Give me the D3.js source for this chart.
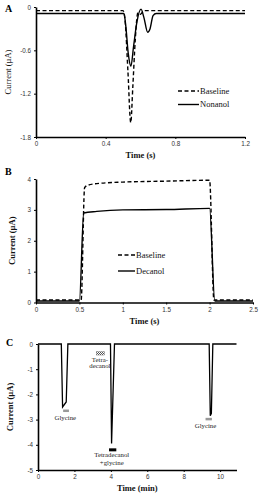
<!DOCTYPE html>
<html>
<head>
<meta charset="utf-8">
<script src="https://d3js.org/d3.v7.min.js"></script>
<style>
  body { margin: 0; background: #fff; }
  svg { font-family: "Liberation Serif", "DejaVu Serif", serif; }
  .tick text { font-size: 6.3px; fill: #333; }
  .axis path, .axis line { stroke: #000; }
  .lbl { font-size: 8.5px; fill: #111; }
</style>
</head>
<body>
<svg id="chart" width="260" height="500"></svg>
<script>
// ---- panel A: time (s) vs current (uA)
var aBaseT = [0, 0.5, 0.512, 0.528, 0.544, 0.556, 0.57, 0.585, 0.6, 0.62, 1.2];
var aBaseV = [-0.05, -0.05, -0.2, -0.9, -1.6, -1.1, -0.45, -0.08, -0.1, -0.05, -0.05];
var aNonT = [0, 0.505, 0.515, 0.53, 0.545, 0.56, 0.58, 0.603, 0.62, 0.641, 0.655, 0.672, 0.69, 1.2];
var aNonV = [-0.09, -0.09, -0.25, -0.65, -0.82, -0.55, -0.2, -0.03, -0.15, -0.35, -0.3, -0.12, -0.09, -0.09];
var aXTicks = [0, 0.4, 0.8, 1.2];
var aYTicks = [0, -0.6, -1.2, -1.8];

// ---- panel B
var bBaseT = [0, 0.52, 0.56, 0.6, 0.7, 1.0, 1.5, 2.0, 2.05, 2.1, 2.5];
var bBaseV = [0.08, 0.08, 3.72, 3.8, 3.85, 3.9, 3.93, 3.96, 0.08, 0.08, 0.08];
var bDecT = [0, 0.5, 0.55, 0.7, 1.0, 1.5, 2.0, 2.06, 2.1, 2.5];
var bDecV = [0.05, 0.05, 2.9, 2.95, 3.0, 3.01, 3.05, 0.05, 0.05, 0.05];
var bXTicks = [0, 0.5, 1, 1.5, 2, 2.5];
var bYTicks = [0, 1, 2, 3, 4];

// ---- panel C: time (min)
var cT = [0, 1.28, 1.35, 1.55, 1.64, 3.98, 4.04, 4.2, 9.4, 9.46, 9.52, 9.6, 10.9];
var cV = [0, 0, -2.5, -2.3, 0, 0, -3.95, 0, 0, -2.85, -2.75, 0, 0];
var cXTicks = [0, 2, 4, 6, 8, 10];
var cYTicks = [0, -1, -2, -3, -4, -5];

var svg = d3.select("#chart");

function pts(t, v) { return t.map(function(d, i) { return [d, v[i]]; }); }

function panel(o) {
  var x = d3.scaleLinear().domain(o.xd).range(o.xr);
  var y = d3.scaleLinear().domain(o.yd).range(o.yr);
  var g = svg.append("g");

  g.append("g").attr("class", "axis")
    .attr("transform", "translate(0," + o.yr[0] + ")")
    .call(d3.axisBottom(x).tickValues(o.xt).tickSize(2).tickSizeOuter(0).tickFormat(d3.format("")))
    .call(function(a) { a.select(".domain").attr("stroke-width", 1.6); });
  g.append("g").attr("class", "axis")
    .attr("transform", "translate(" + o.xr[0] + ",0)")
    .call(d3.axisLeft(y).tickValues(o.yt).tickSize(2).tickSizeOuter(0).tickFormat(function(d) { return String(d); }))
    .call(function(a) { a.select(".domain").attr("stroke-width", 1.6); });

  var line = d3.line().x(function(d) { return x(d[0]); }).y(function(d) { return y(d[1]); })
    .curve(o.curve || d3.curveMonotoneX);
  o.series.forEach(function(s) {
    g.append("path").datum(pts(s.t, s.v))
      .attr("fill", "none").attr("stroke", "#000")
      .attr("stroke-width", s.w || 1.4)
      .attr("stroke-dasharray", s.dash ? "4,2.5" : null)
      .attr("d", line);
  });

  g.append("text").attr("class", "lbl")
    .attr("x", (o.xr[0] + o.xr[1]) / 2).attr("y", o.yr[0] + 21)
    .attr("text-anchor", "middle").attr("font-weight", "bold").text(o.xl);
  g.append("text").attr("class", "lbl")
    .attr("transform", "translate(" + o.ylx + "," + (o.yr[0] + o.yr[1]) / 2 + ") rotate(-90)")
    .attr("text-anchor", "middle").attr("font-weight", o.ylb ? "bold" : "normal").text("Current (\u00b5A)");
  g.append("text").attr("x", o.letter[0]).attr("y", o.letter[1])
    .attr("font-size", 10).attr("font-weight", "bold").text(o.name);

  if (o.legend) {
    o.legend.forEach(function(l, i) {
      var ly = o.legPos[1] + i * o.legGap;
      g.append("line").attr("x1", o.legPos[0]).attr("x2", o.legPos[0] + o.legLen)
        .attr("y1", ly).attr("y2", ly).attr("stroke", "#000").attr("stroke-width", 1.4)
        .attr("stroke-dasharray", l.dash ? "4,2.5" : null);
      g.append("text").attr("class", "lbl").attr("x", o.legPos[0] + o.legLen + 1).attr("y", ly + 2.5)
        .text(l.name);
    });
  }
  return { x: x, y: y, g: g };
}

panel({
  name: "A", letter: [5, 12], xd: [0, 1.2], xr: [36, 245], yd: [-1.8, 0], yr: [137, 7],
  xt: aXTicks, yt: aYTicks, xl: "Time (s)", ylx: 11, ylb: false,
  series: [{ t: aBaseT, v: aBaseV, dash: true }, { t: aNonT, v: aNonV }],
  legend: [{ name: "Baseline", dash: true }, { name: "Nonanol" }],
  legPos: [178, 91], legGap: 13.5, legLen: 21
});

panel({
  name: "B", letter: [5, 175], xd: [0, 2.5], xr: [36, 253], yd: [0, 4], yr: [302.5, 179],
  xt: bXTicks, yt: bYTicks, xl: "Time (s)", ylx: 15, ylb: true,
  series: [{ t: bBaseT, v: bBaseV, dash: true }, { t: bDecT, v: bDecV }],
  legend: [{ name: "Baseline", dash: true }, { name: "Decanol" }],
  legPos: [118, 255], legGap: 16, legLen: 17
});

var pc = panel({
  name: "C", letter: [6, 346], xd: [0, 10.9], xr: [38, 236.5], yd: [-5, 0], yr: [470, 344],
  xt: cXTicks, yt: cYTicks, xl: "Time (min)", ylx: 13, ylb: true, curve: d3.curveLinear,
  series: [{ t: cT, v: cV, w: 1.3 }]
});

// panel C annotations
var marks = [
  { t0: 1.38, t1: 1.7, v: -2.65, fill: "#999", h: 2.5, text: ["Glycine"], tx: 1.5, tv: -3.0 },
  { t0: 3.9, t1: 4.3, v: -4.2, fill: "#000", h: 3, text: ["Tetradecanol", "+glycine"], tx: 4.05, tv: -4.5 },
  { t0: 9.2, t1: 9.55, v: -2.98, fill: "#999", h: 2.5, text: ["Glycine"], tx: 9.2, tv: -3.35 }
];
marks.forEach(function(m) {
  pc.g.append("rect").attr("x", pc.x(m.t0)).attr("width", pc.x(m.t1) - pc.x(m.t0))
    .attr("y", pc.y(m.v) - m.h / 2).attr("height", m.h).attr("fill", m.fill);
  m.text.forEach(function(s, i) {
    pc.g.append("text").attr("x", pc.x(m.tx)).attr("y", pc.y(m.tv) + i * 7.5)
      .attr("text-anchor", "middle").attr("font-size", 6.8).attr("fill", "#222").text(s);
  });
});
var defs = svg.append("defs");
var pat = defs.append("pattern").attr("id", "chk").attr("width", 2).attr("height", 2)
  .attr("patternUnits", "userSpaceOnUse");
pat.append("rect").attr("width", 2).attr("height", 2).attr("fill", "#fff");
pat.append("rect").attr("width", 1).attr("height", 1).attr("fill", "#555");
pat.append("rect").attr("x", 1).attr("y", 1).attr("width", 1).attr("height", 1).attr("fill", "#555");
pc.g.append("rect").attr("x", pc.x(3.2)).attr("width", pc.x(3.65) - pc.x(3.2))
  .attr("y", pc.y(-0.3)).attr("height", 3.5).attr("fill", "url(#chk)").attr("stroke", "#777").attr("stroke-width", 0.4);
["Tetra-", "decanol"].forEach(function(s, i) {
  pc.g.append("text").attr("x", pc.x(3.4)).attr("y", pc.y(-0.7) + i * 6.5)
    .attr("text-anchor", "middle").attr("font-size", 6.8).attr("fill", "#222").text(s);
});
</script>
</body>
</html>
